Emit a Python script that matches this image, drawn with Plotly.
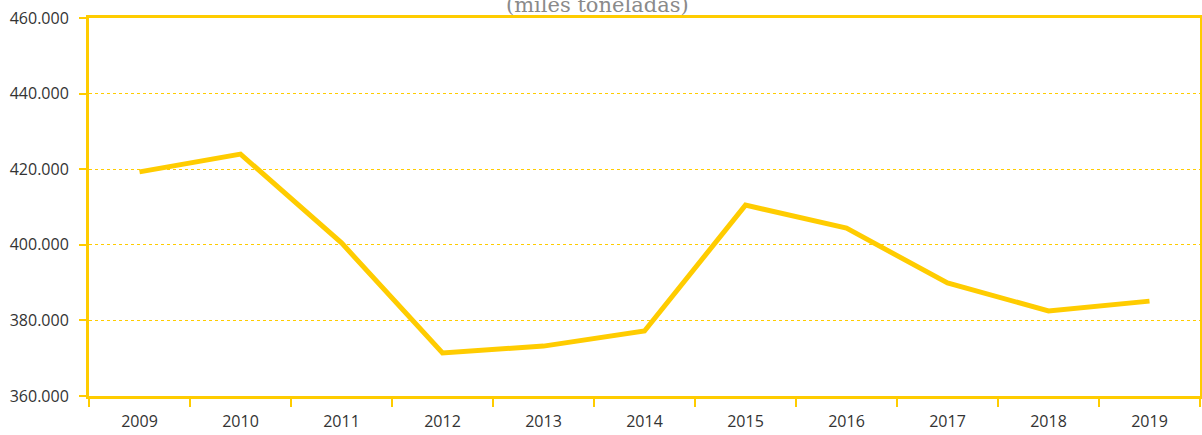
import plotly.graph_objects as go

years = ["2009", "2010", "2011", "2012", "2013", "2014", "2015", "2016", "2017", "2018", "2019"]
values = [419300, 424000, 400500, 371400, 373200, 377200, 410500, 404400, 389900, 382500, 385100]
y_ticks = [360000, 380000, 400000, 420000, 440000, 460000]
title_text = "(miles toneladas)"

yellow = "#FFCC00"

fig = go.Figure()
fig.add_trace(go.Scatter(x=years, y=values, mode="lines",
                         line=dict(color=yellow, width=5), hoverinfo="x+y"))

fig.add_annotation(text=title_text, xref="paper", yref="paper", x=0.4575, y=1.0,
                   yanchor="bottom", yshift=-1, showarrow=False,
                   font=dict(family="DejaVu Serif", size=21, color="#8a8a8a"))

fig.update_layout(
    width=1202, height=435,
    margin=dict(l=89, r=2, t=18, b=39, autoexpand=False),
    paper_bgcolor="white", plot_bgcolor="white",
    separators=",.",
    showlegend=False,
    xaxis=dict(type="category", range=[-0.5, 10.5], tickson="boundaries",
               ticks="outside", ticklen=8, tickwidth=2, tickcolor=yellow,
               ticklabelstandoff=9,
               showline=True, linecolor=yellow, linewidth=3, mirror=True,
               showgrid=False, zeroline=False, automargin=False,
               tickfont=dict(family="Open Sans", size=16, color="#333333")),
    yaxis=dict(range=[360000, 460000], tickvals=y_ticks, tickformat=",d",
               ticks="outside", ticklen=7, tickwidth=2, tickcolor=yellow,
               ticklabelstandoff=7,
               showline=True, linecolor=yellow, linewidth=3, mirror=True,
               showgrid=True, gridcolor=yellow, gridwidth=1, griddash="dot",
               zeroline=False, automargin=False,
               tickfont=dict(family="Open Sans", size=16, color="#333333")),
)

fig.write_html("out.html", config={"displayModeBar": False},
               post_script="document.body.style.margin='0';document.body.style.overflow='hidden';")
